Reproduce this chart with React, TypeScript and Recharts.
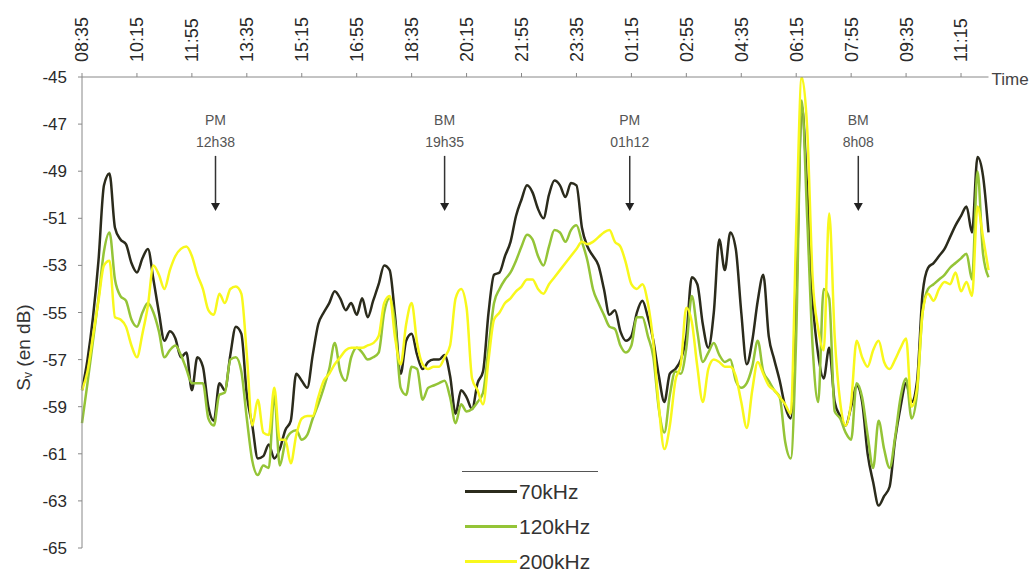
import React from "react";
import { LineChart, Line, XAxis, YAxis, Legend, ReferenceDot } from "recharts";

const FONT = "'Liberation Sans', Arial, sans-serif";

// time axis labels, one every 10 samples (100 min)
const TIME_LABELS = [
  "08:35", "10:15", "11:55", "13:35", "15:15", "16:55", "18:35", "20:15", "21:55",
  "23:35", "01:15", "02:55", "04:35", "06:15", "07:55", "09:35", "11:15",
];
const START_MIN = 8 * 60 + 35;
const STEP_MIN = 10;

const Y_TICKS = [-65, -63, -61, -59, -57, -55, -53, -51, -49, -47, -45];

// Sv in dB, one sample every 10 min from 08:35
const SV_70 = [
  -58.3, -57.0, -55.2, -52.8, -49.6, -49.1, -51.4, -51.9, -52.1, -52.9,
  -53.3, -52.7, -52.3, -53.6, -55.0, -56.2, -55.8, -56.1, -56.9, -56.7,
  -58.3, -56.9, -57.3, -59.0, -59.6, -58.0, -58.3, -56.8, -55.6, -55.9,
  -58.5, -59.8, -61.2, -61.1, -60.6, -61.2, -60.8, -60.0, -59.6, -57.6,
  -57.9, -58.2, -56.8, -55.5, -55.0, -54.6, -54.1, -54.4, -54.9, -54.6,
  -55.1, -54.4, -55.2, -54.5, -53.8, -53.0, -53.2, -55.2, -57.6, -56.2,
  -55.9, -56.8, -57.4, -57.1, -57.0, -57.0, -56.8, -57.7, -59.3, -58.3,
  -58.6, -59.1, -58.0, -57.5, -55.0, -53.4, -53.3, -52.6, -52.0, -50.9,
  -50.2, -49.6, -49.9, -50.6, -51.0, -50.0, -49.4, -49.6, -50.1, -49.5,
  -49.6, -51.4, -52.2, -52.6, -53.0, -54.0, -55.1, -54.9, -55.8, -56.2,
  -56.0, -55.0, -54.5, -55.2, -56.2, -57.7, -58.8, -57.6, -57.4, -57.0,
  -56.0, -53.5, -53.8, -55.5, -56.5, -55.0, -51.9, -53.2, -51.6, -52.3,
  -55.0, -57.2, -56.2, -54.5, -53.4, -56.0, -57.0, -57.9, -59.0, -59.5,
  -54.5, -46.2, -49.8, -54.5, -56.8, -57.8, -56.5, -58.8, -59.4, -59.8,
  -59.0, -58.1, -58.8, -61.0, -62.2, -63.2, -62.8, -62.4, -60.4, -59.0,
  -58.0, -58.8, -57.9, -54.2, -53.1, -52.9, -52.6, -52.3, -51.8, -51.3,
  -50.9, -50.5, -51.6, -48.4, -49.2, -51.6,
];

const SV_120 = [
  -59.7, -58.0, -56.2, -54.4, -52.4, -51.6, -53.6, -54.3, -54.5, -55.3,
  -55.6, -55.0, -54.6, -55.0, -55.8, -56.9, -56.6, -56.4, -56.8, -57.4,
  -58.0, -58.0, -58.0, -59.5, -59.8, -58.5, -58.4, -57.0, -56.9, -57.5,
  -59.5, -61.3, -61.9, -61.5, -61.6, -58.5, -61.5, -60.5, -60.1, -60.0,
  -60.4, -60.2, -59.5, -58.9, -58.2, -57.4, -56.3, -57.5, -57.9, -56.9,
  -56.5, -56.7, -57.0, -56.9, -56.7, -55.0, -54.4, -55.5, -58.2, -58.5,
  -57.3, -57.4, -58.7, -58.2, -58.1, -58.0, -57.9, -58.6, -59.7, -58.9,
  -59.2, -59.1, -58.8, -58.4, -56.5, -54.6, -54.0, -53.6, -53.3, -52.8,
  -52.2, -51.7, -51.9, -52.6, -53.0, -52.2, -51.5, -51.6, -52.0, -51.5,
  -51.3, -52.0, -52.8, -54.0, -54.6, -55.1, -55.6, -55.7, -56.4, -56.7,
  -56.4, -55.2, -55.2, -56.0, -56.9, -59.1, -60.1, -58.5, -57.5, -57.6,
  -56.5, -54.3, -55.8, -57.1, -56.7, -56.3, -56.8, -57.1, -57.0, -57.9,
  -58.2, -58.0, -57.3, -56.2, -57.5, -57.9, -58.3, -58.6, -60.5, -61.2,
  -56.0, -46.0, -51.0, -56.5, -58.8, -54.0, -54.4, -59.2, -59.5, -60.1,
  -60.4, -58.0, -58.6, -60.2, -61.6, -59.6, -60.8, -61.6, -60.3, -58.6,
  -57.8, -59.5, -58.4, -55.0, -54.0, -53.8, -53.6, -53.4, -53.1, -52.9,
  -52.7, -52.5, -53.6, -49.0, -52.5, -53.5,
];

const SV_200 = [
  -58.3, -57.5, -56.0, -54.5, -53.0, -52.8, -55.2, -55.3, -55.6, -56.4,
  -56.9, -55.9, -54.7, -53.0, -53.4, -54.0, -53.2, -52.6, -52.3, -52.2,
  -52.6, -53.4, -54.0, -54.9, -55.1, -54.2, -54.6, -54.0, -53.9, -54.2,
  -56.8, -59.8, -58.7, -60.1, -60.2, -58.2, -60.4, -60.4, -61.4, -60.2,
  -59.5, -59.4, -59.4, -58.6, -57.9, -57.6, -57.2, -56.9, -56.6, -56.5,
  -56.5, -56.5, -56.4, -56.3, -56.0, -54.6, -54.3, -56.1, -57.2, -55.5,
  -54.6, -56.3, -57.2, -57.4, -57.3, -57.3, -56.9, -56.4, -54.4, -54.0,
  -54.8, -57.8, -58.3, -58.9, -57.0, -55.3, -55.0, -54.6, -54.4, -54.1,
  -53.9, -53.6, -53.6, -54.0, -54.2, -53.8, -53.5, -53.2, -52.9, -52.6,
  -52.3, -52.0, -52.1, -52.0, -51.8, -51.6, -51.5, -52.0, -52.2, -52.9,
  -53.8, -54.0, -53.8, -54.6, -56.3, -59.0, -60.8, -59.8, -57.9, -57.2,
  -54.8, -55.4, -57.3, -58.8, -57.4, -57.0, -57.1, -57.3, -57.3, -57.7,
  -58.8, -59.9, -58.3, -57.1, -57.6, -58.1, -58.3, -58.6, -58.9, -59.3,
  -51.5, -45.0, -47.2, -53.6, -55.7, -56.6, -50.8, -56.0, -58.8, -59.8,
  -58.8, -56.2, -56.9, -57.3, -56.6, -56.2, -57.1, -57.4, -57.0, -56.5,
  -56.1, -59.0, -58.2, -55.0, -54.2, -54.5, -54.0, -53.7, -53.8, -53.3,
  -54.1, -53.7, -54.3, -50.5, -51.8, -53.2,
];

// tide events marked with arrows
const EVENTS = [
  { phase: "PM", time: "12h38" },
  { phase: "BM", time: "19h35" },
  { phase: "PM", time: "01h12" },
  { phase: "BM", time: "8h08" },
];

const SERIES = [
  { key: "f70", name: "70kHz", color: "#2b2b1c" },
  { key: "f120", name: "120kHz", color: "#94c437" },
  { key: "f200", name: "200kHz", color: "#f8f81c" },
];

const data = SV_70.map((v, i) => ({ i, f70: v, f120: SV_120[i], f200: SV_200[i] }));

const eventIndex = (t: string) => {
  const [h, m] = t.split("h").map(Number);
  const mins = (h * 60 + m - START_MIN + 1440) % 1440;
  return mins / STEP_MIN;
};

const TopTick = ({ x, y, payload }: any) => (
  <text
    x={x}
    y={y}
    dy="0.36em"
    transform={`rotate(-90, ${x}, ${y})`}
    textAnchor="start"
    fill="#2a2a2a"
    fontSize={18}
    fontFamily={FONT}
  >
    {TIME_LABELS[Math.round(payload.value / 10)]}
  </text>
);

const TimeLabel = ({ viewBox }: any) => (
  <text
    x={viewBox.x + viewBox.width + 3}
    y={viewBox.y + viewBox.height + 8}
    fill="#444"
    fontSize={17}
    fontFamily={FONT}
  >
    Time
  </text>
);

const SvLabel = ({ viewBox }: any) => {
  const cx = viewBox.x + 3;
  const cy = viewBox.y + viewBox.height / 2 + 35;
  return (
    <text
      x={cx}
      y={cy}
      transform={`rotate(-90, ${cx}, ${cy})`}
      textAnchor="middle"
      dominantBaseline="central"
      fill="#333"
      fontSize={19}
      fontFamily={FONT}
    >
      S<tspan dy={5} fontSize={12}>v</tspan>
      <tspan dy={-5}> (en dB)</tspan>
    </text>
  );
};

const eventMarker = (ev: { phase: string; time: string }) => (props: any) => {
  const { cx, cy } = props;
  return (
    <g>
      <text x={cx} y={cy - 36} textAnchor="middle" dominantBaseline="central" fontSize={14} fill="#555" fontFamily={FONT}>
        {ev.phase}
      </text>
      <text x={cx} y={cy - 14} textAnchor="middle" dominantBaseline="central" fontSize={14} fill="#555" fontFamily={FONT}>
        {ev.time}
      </text>
      <line x1={cx} y1={cy} x2={cx} y2={cy + 49} stroke="#333" strokeWidth={1.5} />
      <polygon points={`${cx - 4.5},${cy + 47} ${cx + 4.5},${cy + 47} ${cx},${cy + 55}`} fill="#222" />
    </g>
  );
};

const LegendBox = () => (
  <div style={{ width: 136, borderTop: "1px solid #555", paddingTop: 2, fontFamily: FONT }}>
    {SERIES.map((s) => (
      <div key={s.key} style={{ display: "flex", alignItems: "center", height: 35 }}>
        <div style={{ width: 52, height: 3, marginLeft: 3, background: s.color }} />
        <span style={{ marginLeft: 2, fontSize: 21, color: "#333" }}>{s.name}</span>
      </div>
    ))}
  </div>
);

export default function App() {
  return (
    <div style={{ position: "absolute", left: 0, top: 0, width: 1032, height: 577, background: "#fff" }}>
      <LineChart width={1032} height={577} data={data} margin={{ top: 17, right: 43.5, bottom: 29, left: 20 }}>
        <XAxis
          dataKey="i"
          type="number"
          orientation="top"
          domain={[0, 165]}
          ticks={TIME_LABELS.map((_, k) => k * 10)}
          height={60}
          tickSize={4}
          tickMargin={11}
          tick={<TopTick />}
          stroke="#888"
          label={<TimeLabel />}
        />
        <YAxis
          type="number"
          domain={[-65, -45]}
          ticks={Y_TICKS}
          allowDataOverflow
          width={62}
          tickSize={4}
          tickMargin={11}
          stroke="#888"
          tick={{ fill: "#2a2a2a", fontSize: 17, fontFamily: FONT }}
          label={<SvLabel />}
        />
        {SERIES.map((s) => (
          <Line
            key={s.key}
            dataKey={s.key}
            name={s.name}
            type="monotone"
            stroke={s.color}
            strokeWidth={2.5}
            dot={false}
            isAnimationActive={false}
          />
        ))}
        {EVENTS.map((ev) => (
          <ReferenceDot
            key={ev.time}
            x={eventIndex(ev.time)}
            y={-48.35}
            shape={eventMarker(ev)}
          />
        ))}
        <Legend
          layout="vertical"
          align="center"
          verticalAlign="middle"
          content={<LegendBox />}
          wrapperStyle={{ left: 462, top: 471, width: 136, height: 110 }}
        />
      </LineChart>
    </div>
  );
}
